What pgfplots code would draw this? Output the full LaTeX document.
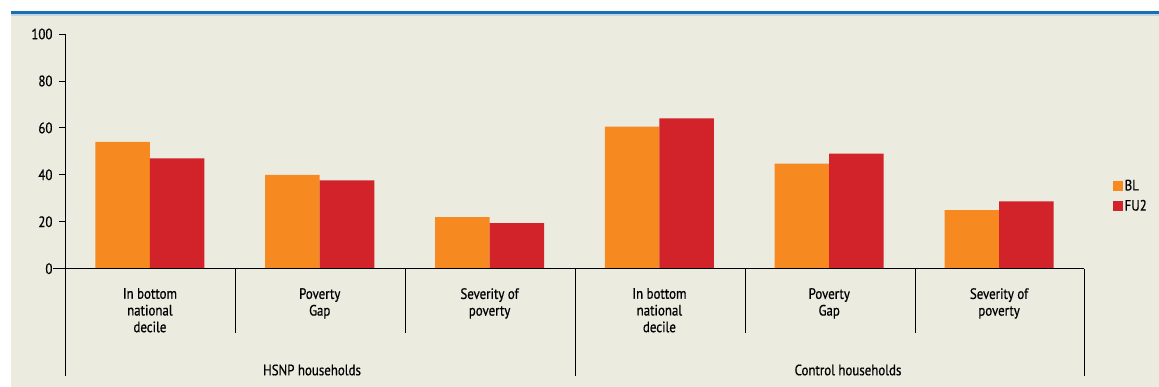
\documentclass[border=0pt]{standalone}
\usepackage{pgfplots}
\pgfplotsset{compat=1.18}
\usepackage{fontspec}
\setmainfont[FakeStretch=0.86, FakeBold=0.7]{PT Sans}

\definecolor{bgbeige}{RGB}{236,235,224}
\definecolor{barorange}{RGB}{246,137,31}
\definecolor{barred}{RGB}{210,35,42}
\definecolor{ruleblue}{RGB}{27,111,174}
\definecolor{ruleblue2}{RGB}{190,213,234}

\newcommand{\lblfont}{\fontsize{15}{16.7}\selectfont}

\begin{document}
\begin{tikzpicture}[x=1pt,y=1pt]
\useasboundingbox (0,0) rectangle (1159,387);
% page background, panel and top rule
\fill[white] (0,0) rectangle (1159,387);
\fill[bgbeige] (11,0) rectangle (1159,371);
\fill[ruleblue2] (11,371) rectangle (1159,373);
\fill[ruleblue] (11,373) rectangle (1159,375.5);

\begin{axis}[
  at={(65pt,118.3pt)}, anchor=south west,
  scale only axis, width=1019pt, height=234.7pt,
  xmin=-0.5, xmax=5.5, ymin=0, ymax=100,
  axis lines=left,
  axis line style={-, black, line width=0.8pt},
  x axis line style={draw=none},
  ytick={0,20,...,100},
  xtick={0,1,2,3,4,5},
  xticklabels={{In bottom\\national\\decile},{Poverty\\Gap},{Severity of\\poverty},
               {In bottom\\national\\decile},{Poverty\\Gap},{Severity of\\poverty}},
  x tick style={draw=none},
  y tick style={black, line width=0.8pt},
  major tick length=6pt,
  tick align=outside,
  yticklabel style={font=\lblfont, xshift=-3pt},
  xticklabel style={font=\lblfont, align=center, anchor=north, yshift=-10pt},
  /pgf/number format/assume math mode=true,
  ybar=0pt, bar width=54.5pt,
  clip=false,
  legend style={at={(axis description cs:1.025,0.31)}, anchor=west,
    draw=none, fill=none, font=\lblfont, row sep=4pt,
    legend cell align=left},
  legend image code/.code={\fill[#1] (0pt,-5pt) rectangle (10pt,5pt);},
]
\addplot[fill=barorange, draw=none] coordinates {(0,54) (1,40) (2,22) (3,60.5) (4,44.8) (5,25)};
\addplot[fill=barred, draw=none] coordinates {(0,47) (1,37.6) (2,19.4) (3,64) (4,49) (5,28.7)};
\legend{BL,FU2}
\end{axis}

% category axis line and separators
\draw[black, line width=0.8pt] (53,118.3) -- (1084,118.3);
\foreach \xs in {235,405,745,915}
  \draw[black, line width=0.8pt] (\xs,118.3) -- (\xs,54);
\foreach \xs in {65,575,1084}
  \draw[black, line width=0.8pt] (\xs,118.3) -- (\xs,11);

% group labels
\node[font=\lblfont] at (312,17) {HSNP households};
\node[font=\lblfont] at (848,17) {Control households};
\end{tikzpicture}
\end{document}
